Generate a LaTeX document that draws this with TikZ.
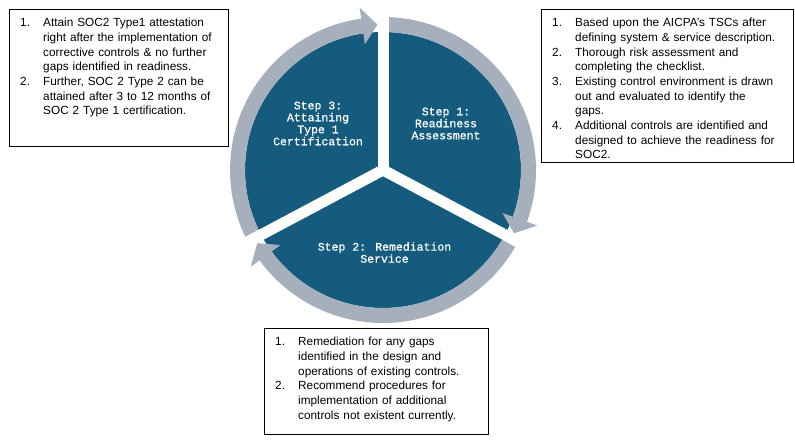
\documentclass[tikz,border=0pt]{standalone}
\usepackage{fontspec}
\setmainfont{Liberation Sans}
\newfontfamily\stepfont[FakeBold=0.8]{Liberation Mono}
\definecolor{pieblue}{RGB}{21,91,125}
\definecolor{ringgrey}{RGB}{166,176,188}
\newcommand\itemnum[1]{\makebox[23pt][l]{#1}}
\newcommand\itemind{\hspace*{23pt}}
% ring arrow: start angle, head base angle, tip angle
\newcommand\ringarrow[3]{%
  \fill[ringgrey] (#1:153) arc[start angle=#1, end angle=#2, radius=153]
    -- (#2:164) -- (#3:145.5) -- (#2:127) -- (#2:138)
    arc[start angle=#2, end angle=#1, radius=138] -- cycle;}
\begin{document}
\begin{tikzpicture}[x=1pt,y=1pt,
  infobox/.style={draw=black, line width=1.2pt, fill=white, inner sep=0pt, anchor=south west},
  listtext/.style={anchor=base west, inner sep=0pt, text width=228pt, align=left,
    font=\fontsize{11.8}{14.7}\selectfont},
  steptext/.style={text=white, align=center, inner sep=0pt,
    font=\stepfont\fontsize{11.5}{12}\selectfont},
  gapbar/.style={draw=white, line width=11pt, line cap=round},
]
\useasboundingbox (0,0) rectangle (795,447);
\fill[white] (0,0) rectangle (795,447);

% cycle
\coordinate (C) at (383,277);
\begin{scope}[shift={(383,277)}]
  \fill[pieblue] (0,0) circle[radius=138];
  \ringarrow{87.8}{-19.8}{-25.8}
  \ringarrow{-30.2}{-143.8}{-149.8}
  \ringarrow{-154.2}{-261.8}{-267.8}
  \coordinate (e1) at (90:160);
  \coordinate (e2) at (-28:160);
  \coordinate (e3) at (208:160);
\end{scope}
\draw[gapbar] (C) -- (e1);
\draw[gapbar] (C) -- (e2);
\draw[gapbar] (C) -- (e3);

\node[steptext] (s1) at (446,323.5) {Step 1:\\Readiness\\Assessment};
\node[steptext] (s3) at (318,323.5) {Step 3:\\Attaining\\Type 1\\Certification};
\node[steptext] (s2) at (384.5,194.5) {Step 2: Remediation\\Service};

% boxes
\node[infobox, minimum width=219pt, minimum height=137pt] (b1) at (9,300) {};
\node[infobox, minimum width=252pt, minimum height=153pt] (b2) at (541,284) {};
\node[infobox, minimum width=224pt, minimum height=106pt] (b3) at (264,12) {};

\node[listtext] (t1) at (20,420.3) {%
\itemnum{1.}Attain SOC2 Type1 attestation\\
\itemind right after the implementation of\\
\itemind corrective controls \& no further\\
\itemind gaps identified in readiness.\\
\itemnum{2.}Further, SOC 2 Type 2 can be\\
\itemind attained after 3 to 12 months of\\
\itemind SOC 2 Type 1 certification.};

\node[listtext] (t2) at (552,420.3) {%
\itemnum{1.}Based upon the AICPA’s TSCs after\\
\itemind defining system \& service description.\\
\itemnum{2.}Thorough risk assessment and\\
\itemind completing the checklist.\\
\itemnum{3.}Existing control environment is drawn\\
\itemind out and evaluated to identify the\\
\itemind gaps.\\
\itemnum{4.}Additional controls are identified and\\
\itemind designed to achieve the readiness for\\
\itemind SOC2.};

\node[listtext] (t3) at (275,101.3) {%
\itemnum{1.}Remediation for any gaps\\
\itemind identified in the design and\\
\itemind operations of existing controls.\\
\itemnum{2.}Recommend procedures for\\
\itemind implementation of additional\\
\itemind controls not existent currently.};
\end{tikzpicture}
\end{document}
